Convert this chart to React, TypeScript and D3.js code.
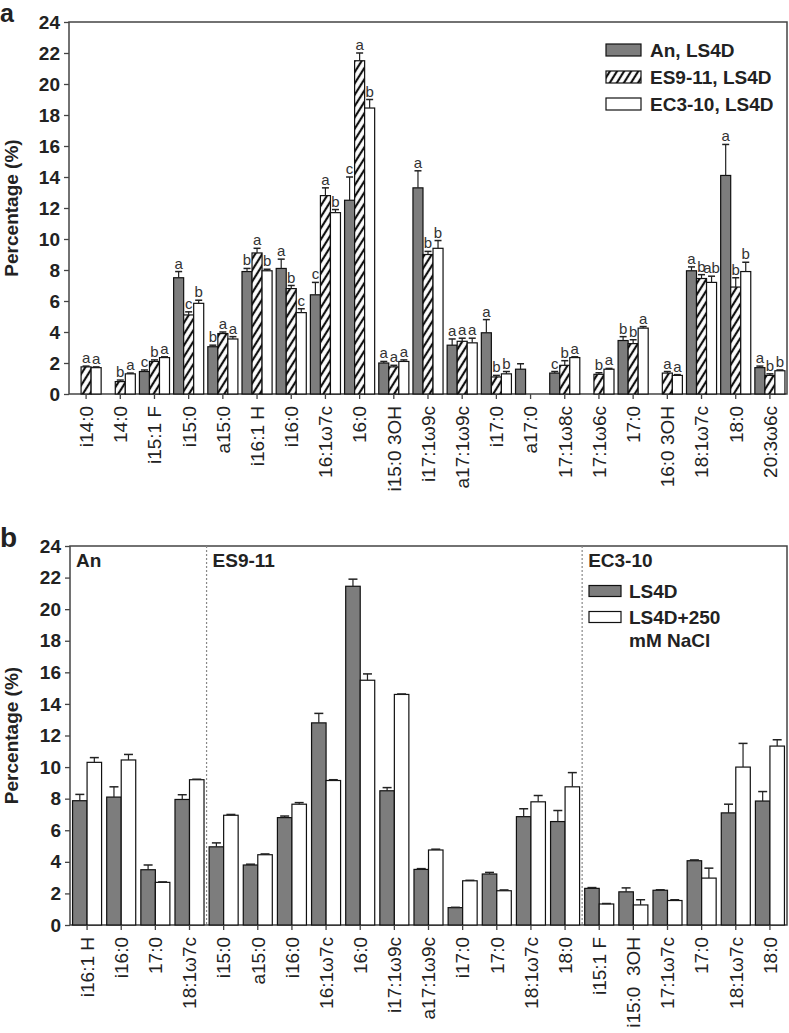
import React, { useEffect, useRef } from 'react';
import * as d3 from 'd3';

// panel a
const catsA = ["i14:0", "14:0", "i15:1 F", "i15:0", "a15:0", "i16:1 H", "i16:0", "16:1ω7c", "16:0", "i15:0 3OH",
  "i17:1ω9c", "a17:1ω9c", "i17:0", "a17:0", "17:1ω8c", "17:1ω6c", "17:0", "16:0 3OH", "18:1ω7c", "18:0", "20:3ω6c"];
const seriesA = ["An, LS4D", "ES9-11, LS4D", "EC3-10, LS4D"];
const anA = [0, 0, 1.45, 7.5, 3.05, 7.9, 8.1, 6.4, 12.5, 2.0, 13.3, 3.15, 3.95, 1.6, 1.35, 0, 3.45, 0, 7.95, 14.1, 1.7];
const anErrA = [0, 0, 0.1, 0.4, 0.1, 0.2, 0.6, 0.8, 1.5, 0.1, 1.1, 0.4, 0.85, 0.35, 0.1, 0, 0.25, 0, 0.25, 2.0, 0.1];
const esA = [1.75, 0.8, 2.1, 5.1, 3.9, 9.1, 6.8, 12.8, 21.5, 1.75, 9.0, 3.4, 1.1, 0, 1.85, 1.27, 3.25, 1.35, 7.45, 6.9, 1.2];
const esErrA = [0.05, 0.1, 0.1, 0.2, 0.1, 0.3, 0.2, 0.5, 0.5, 0.1, 0.2, 0.2, 0.1, 0, 0.3, 0.1, 0.25, 0.1, 0.25, 0.6, 0.1];
const ecA = [1.7, 1.3, 2.35, 5.85, 3.55, 7.95, 5.25, 11.7, 18.45, 2.1, 9.4, 3.3, 1.3, 0, 2.35, 1.6, 4.25, 1.2, 7.2, 7.9, 1.5];
const ecErrA = [0.05, 0.05, 0.05, 0.2, 0.15, 0.1, 0.25, 0.2, 0.55, 0.1, 0.5, 0.3, 0.15, 0, 0.05, 0.05, 0.1, 0.05, 0.4, 0.6, 0.05];
const lettersAn = ["", "", "c", "a", "b", "b", "a", "c", "c", "a", "a", "a", "a", "", "c", "", "b", "", "a", "a", "a"];
const lettersEs = ["a", "b", "b", "c", "a", "a", "b", "a", "a", "a", "b", "a", "b", "", "b", "b", "b", "a", "b", "b", "b"];
const lettersEc = ["a", "a", "a", "b", "a", "b", "c", "b", "b", "a", "b", "a", "b", "", "a", "a", "a", "a", "ab", "b", "b"];

// panel b
const catsB = ["i16:1 H", "i16:0", "17:0", "18:1ω7c",
  "i15:0", "a15:0", "i16:0", "16:1ω7c", "16:0", "i17:1ω9c", "a17:1ω9c", "i17:0", "17:0", "18:1ω7c", "18:0",
  "i15:1 F", "i15:0  3OH", "17:1ω7c", "17:0", "18:1ω7c", "18:0"];
const groupsB = ["An", "ES9-11", "EC3-10"];
const groupSizesB = [4, 11, 6];
const seriesB = ["LS4D", "LS4D+250 mM NaCl"];
const ls4dB = [7.87, 8.1, 3.5, 7.95, 4.95, 3.8, 6.8, 12.8, 21.45, 8.5, 3.52, 1.1, 3.23, 6.86, 6.55, 2.32, 2.1, 2.2, 4.07, 7.1, 7.85];
const ls4dErrB = [0.4, 0.65, 0.3, 0.3, 0.25, 0.05, 0.1, 0.6, 0.45, 0.2, 0.05, 0.02, 0.1, 0.5, 0.7, 0.05, 0.25, 0.03, 0.05, 0.55, 0.6];
const naclB = [10.3, 10.45, 2.7, 9.2, 6.95, 4.45, 7.65, 9.15, 15.5, 14.6, 4.75, 2.8, 2.17, 7.8, 8.75, 1.33, 1.27, 1.55, 2.97, 10.0, 11.33];
const naclErrB = [0.3, 0.35, 0.03, 0.03, 0.05, 0.05, 0.1, 0.05, 0.4, 0.03, 0.05, 0.03, 0.05, 0.4, 0.9, 0.03, 0.33, 0.05, 0.63, 1.5, 0.4];

const yTicks = d3.range(0, 25, 2);

const FONT = "Liberation Sans, Arial, Helvetica, sans-serif";
const GRAY = "#7d7d7d";
const TXT = "#222";

const App = () => {
  const svgRef = useRef(null);

  useEffect(() => {
    const svg = d3.select(svgRef.current);
    svg.selectAll("*").remove();

    const defs = svg.append("defs");
    const pat = defs.append("pattern")
      .attr("id", "hatch")
      .attr("patternUnits", "userSpaceOnUse")
      .attr("width", 10).attr("height", 6)
      .attr("patternTransform", "rotate(-58)");
    pat.append("rect").attr("width", 10).attr("height", 6).attr("fill", "#fff");
    pat.append("line").attr("x1", 0).attr("x2", 10).attr("y1", 3).attr("y2", 3)
      .attr("stroke", "#111").attr("stroke-width", 2.2);

    const fills = [GRAY, "url(#hatch)", "#fff"];

    // frame + y axis, gives back the y scale
    const drawFrame = (g, x0, x1, yTop, yZero) => {
      const y = d3.scaleLinear().domain([0, 24]).range([yZero, yTop]);
      const ax = g.append("g")
        .attr("transform", `translate(${x0},0)`)
        .call(d3.axisLeft(y).tickValues(yTicks).tickSize(5).tickPadding(4).tickFormat(d3.format("d")));
      ax.select(".domain").remove();
      ax.selectAll("line").attr("stroke", "#444").attr("stroke-width", 1.3);
      ax.selectAll("text")
        .attr("font-family", FONT).attr("font-size", 19).attr("font-weight", "bold").attr("fill", TXT);
      g.append("rect")
        .attr("x", x0).attr("y", yTop).attr("width", x1 - x0).attr("height", yZero - yTop)
        .attr("fill", "none").attr("stroke", "#444").attr("stroke-width", 1.5);
      g.append("text")
        .attr("transform", `translate(18,${(yTop + yZero) / 2}) rotate(-90)`)
        .attr("text-anchor", "middle")
        .attr("font-family", FONT).attr("font-size", 19).attr("font-weight", "bold").attr("fill", TXT)
        .text("Percentage (%)");
      return y;
    };

    const drawXAxis = (g, x, cats, yZero) => {
      const ax = g.append("g")
        .attr("transform", `translate(0,${yZero})`)
        .call(d3.axisBottom(x).tickSize(5).tickFormat(i => cats[i]));
      ax.select(".domain").remove();
      ax.selectAll("line").attr("stroke", "#444").attr("stroke-width", 1.3);
      ax.selectAll("text")
        .attr("transform", "rotate(-90)")
        .attr("x", -12).attr("y", 0).attr("dy", "0.36em")
        .attr("text-anchor", "end")
        .attr("font-family", FONT).attr("font-size", 19).attr("fill", TXT)
        .style("white-space", "pre");
    };

    const drawBars = (g, x, inner, y, vals, errs, fill, capW) => {
      const idx = d3.range(vals.length).filter(i => vals[i] > 0);
      g.selectAll(null).data(idx).enter().append("rect")
        .attr("x", i => x(i) + inner)
        .attr("y", i => y(vals[i]))
        .attr("width", capW.w)
        .attr("height", i => y(0) - y(vals[i]))
        .attr("fill", fill)
        .attr("stroke", "#111").attr("stroke-width", 1.2);
      const eg = g.selectAll(null).data(idx.filter(i => errs[i] > 0)).enter().append("g");
      eg.append("line")
        .attr("x1", i => x(i) + inner + capW.w / 2).attr("x2", i => x(i) + inner + capW.w / 2)
        .attr("y1", i => y(vals[i])).attr("y2", i => y(vals[i] + errs[i]))
        .attr("stroke", "#222").attr("stroke-width", 1.2);
      eg.append("line")
        .attr("x1", i => x(i) + inner + capW.w / 2 - capW.c).attr("x2", i => x(i) + inner + capW.w / 2 + capW.c)
        .attr("y1", i => y(vals[i] + errs[i])).attr("y2", i => y(vals[i] + errs[i]))
        .attr("stroke", "#222").attr("stroke-width", 1.5);
    };

    // ---------- panel a ----------
    {
      const x0 = 69, x1 = 787, yTop = 22, yZero = 394;
      const g = svg.append("g");
      g.append("text").attr("x", 0).attr("y", 22)
        .attr("font-family", FONT).attr("font-size", 25).attr("font-weight", "bold").attr("fill", TXT).text("a");
      const y = drawFrame(g, x0, x1, yTop, yZero);
      const x = d3.scaleBand().domain(d3.range(catsA.length)).range([x0, x1]).paddingInner(0.12).paddingOuter(0.06);
      const xs = d3.scaleBand().domain(seriesA).range([0, x.bandwidth()]);
      const vals = [anA, esA, ecA];
      const errs = [anErrA, esErrA, ecErrA];
      const letters = [lettersAn, lettersEs, lettersEc];
      seriesA.forEach((s, k) => {
        drawBars(g, x, xs(s), y, vals[k], errs[k], fills[k], { w: xs.bandwidth(), c: 3.5 });
      });
      seriesA.forEach((s, k) => {
        g.selectAll(null).data(d3.range(catsA.length).filter(i => letters[k][i])).enter().append("text")
          .attr("x", i => x(i) + xs(s) + xs.bandwidth() / 2)
          .attr("y", i => y(vals[k][i] + errs[k][i]) - 3)
          .attr("text-anchor", "middle")
          .attr("font-family", FONT).attr("font-size", 15).attr("fill", "#333")
          .text(i => letters[k][i]);
      });
      drawXAxis(g, x, catsA, yZero);

      const lg = g.append("g");
      seriesA.forEach((s, k) => {
        const cy = 50 + k * 27;
        lg.append("rect").attr("x", 606).attr("y", cy - 6).attr("width", 35).attr("height", 12)
          .attr("fill", fills[k]).attr("stroke", "#111").attr("stroke-width", 1.2);
        lg.append("text").attr("x", 650).attr("y", cy + 7)
          .attr("font-family", FONT).attr("font-size", 19).attr("font-weight", "bold").attr("fill", TXT)
          .text(s);
      });
    }

    // ---------- panel b ----------
    {
      const x0 = 70, x1 = 787, yTop = 546, yZero = 925;
      const g = svg.append("g");
      g.append("text").attr("x", 0).attr("y", 547)
        .attr("font-family", FONT).attr("font-size", 28).attr("font-weight", "bold").attr("fill", TXT).text("b");
      const y = drawFrame(g, x0, x1, yTop, yZero);
      const x = d3.scaleBand().domain(d3.range(catsB.length)).range([x0, x1]).paddingInner(0.15).paddingOuter(0.075);
      const xs = d3.scaleBand().domain(seriesB).range([0, x.bandwidth()]);
      drawBars(g, x, xs(seriesB[0]), y, ls4dB, ls4dErrB, GRAY, { w: xs.bandwidth(), c: 4.5 });
      drawBars(g, x, xs(seriesB[1]), y, naclB, naclErrB, "#fff", { w: xs.bandwidth(), c: 4.5 });
      drawXAxis(g, x, catsB, yZero);

      // dotted group dividers + group names
      const starts = groupSizesB.map((_, k) => d3.sum(groupSizesB.slice(0, k)));
      starts.forEach((st, k) => {
        const gx = k === 0 ? x0 : x0 + st * x.step();
        if (k > 0) {
          g.append("line").attr("x1", gx).attr("x2", gx).attr("y1", yTop).attr("y2", yZero)
            .attr("stroke", "#888").attr("stroke-width", 1.2).attr("stroke-dasharray", "2,2");
        }
        g.append("text").attr("x", gx + 6).attr("y", 567)
          .attr("font-family", FONT).attr("font-size", 19).attr("font-weight", "bold").attr("fill", TXT)
          .text(groupsB[k]);
      });

      const lx = 589;
      const lg = g.append("g");
      [GRAY, "#fff"].forEach((f, k) => {
        const cy = 591 + k * 26;
        lg.append("rect").attr("x", lx).attr("y", cy - 5.5).attr("width", 32).attr("height", 11)
          .attr("fill", f).attr("stroke", "#111").attr("stroke-width", 1.2);
      });
      lg.append("text").attr("x", 629).attr("y", 598)
        .attr("font-family", FONT).attr("font-size", 19).attr("font-weight", "bold").attr("fill", TXT).text("LS4D");
      lg.append("text").attr("x", 629).attr("y", 624)
        .attr("font-family", FONT).attr("font-size", 19).attr("font-weight", "bold").attr("fill", TXT).text("LS4D+250");
      lg.append("text").attr("x", 629).attr("y", 647)
        .attr("font-family", FONT).attr("font-size", 19).attr("font-weight", "bold").attr("fill", TXT).text("mM NaCl");
    }
  }, []);

  return (
    <svg ref={svgRef} width={789} height={1033}
      style={{ position: 'absolute', left: 0, top: 0, background: '#fff' }} />
  );
};

export default App;
